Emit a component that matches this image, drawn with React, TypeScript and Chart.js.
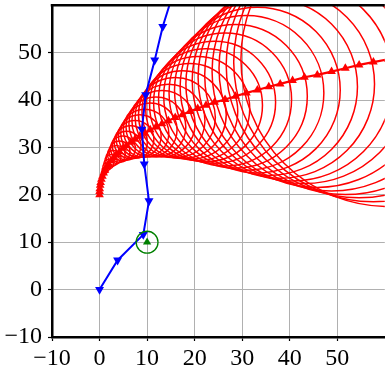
import React, { useEffect, useRef } from 'react';
import { Chart, registerables } from 'chart.js';

Chart.register(...registerables);

// Red trajectory (triangles up) with uncertainty circle radii (data units)
const redX = [0, 0.01, 0.05, 0.13, 0.23, 0.39, 0.6, 0.86, 1.15, 1.52, 1.93, 2.41, 2.94, 3.54, 4.19, 4.92, 5.7, 6.56, 7.47, 8.47, 9.52, 10.66, 11.86, 13.14, 14.49, 15.92, 17.42, 19.0, 20.65, 22.4, 24.2, 26.4, 28.6, 30.9, 33.2, 35.6, 38.0, 40.6, 43.1, 45.8, 48.8, 51.7, 54.6, 57.6, 60.7, 63.9, 67.2];
const redY = [20.0, 20.7, 21.3, 22.0, 22.6, 23.3, 23.9, 24.6, 25.2, 25.9, 26.5, 27.2, 27.8, 28.5, 29.1, 29.8, 30.4, 31.1, 31.7, 32.4, 33.0, 33.7, 34.3, 35.0, 35.6, 36.3, 36.9, 37.6, 38.2, 38.9, 39.5, 40.1, 40.8, 41.5, 42.1, 42.8, 43.4, 44.1, 44.8, 45.3, 46.0, 46.7, 47.4, 48.0, 48.6, 49.3, 49.9];
const redR = [0, 0.01, 0.03, 0.07, 0.12, 0.21, 0.32, 0.46, 0.61, 0.81, 1.02, 1.28, 1.56, 1.88, 2.22, 2.61, 3.02, 3.48, 3.96, 4.49, 5.05, 5.65, 6.29, 6.96, 7.68, 8.44, 9.23, 10.07, 10.94, 11.87, 12.83, 13.99, 15.1, 16.28, 17.43, 18.65, 19.84, 21.11, 22.37, 23.68, 25.13, 26.57, 27.96, 29.38, 30.96, 32.59, 34.27];

// Blue trajectory (triangles down)
const blueX = [0, 3.8, 9.2, 10.4, 9.4, 8.9, 9.7, 11.6, 13.3, 15.6];
const blueY = [0, 6.2, 11.6, 18.7, 26.5, 33.8, 41.1, 48.4, 55.5, 62.9];

// Green target
const greenX = [10];
const greenY = [10];
const greenR = [2.3];

// Axes
const X_MIN = -10;
const X_MAX = 60;
const Y_MIN = -10;
const Y_MAX = 60;
const TICK_STEP = 10;

const FONT = { family: 'Liberation Serif', size: 24, lineHeight: 1.2 };

const fmt = (v: number | string) => {
  const n = Number(v);
  return n < 0 ? '\u2212' + Math.abs(n) : String(n);
};

const toPts = (xs: number[], ys: number[]) => xs.map((x, i) => ({ x, y: ys[i] }));

const radiusPx = (chart: any, r: number) => {
  const s = chart.scales.x;
  if (!s) return 0;
  return Math.abs(s.getPixelForValue(r) - s.getPixelForValue(0));
};

const topFrame = {
  id: 'topFrame',
  afterDatasetsDraw(chart: any) {
    const { ctx, chartArea } = chart;
    ctx.save();
    ctx.strokeStyle = '#000';
    ctx.lineWidth = 2.5;
    ctx.beginPath();
    ctx.moveTo(chartArea.left - 1.25, chartArea.top);
    ctx.lineTo(chartArea.right, chartArea.top);
    ctx.stroke();
    ctx.restore();
  },
};

export default function App() {
  const ref = useRef<HTMLCanvasElement | null>(null);

  useEffect(() => {
    if (!ref.current) return;
    const axisCommon = (isX: boolean, max: number) => ({
      type: 'linear' as const,
      min: isX ? X_MIN : Y_MIN,
      max,
      afterBuildTicks: (s: any) => {
        s.ticks = s.ticks.filter((t: any) => t.value < max);
      },
      afterFit: (s: any) => {
        if (isX) s.height = 30;
        else s.width = 52;
        s.paddingLeft = 0;
        s.paddingRight = 0;
        s.paddingTop = 0;
        s.paddingBottom = 0;
      },
      ticks: {
        stepSize: TICK_STEP,
        font: FONT,
        color: '#000',
        padding: isX ? 3 : 6,
        maxRotation: 0,
        autoSkip: false,
        includeBounds: false,
        callback: (v: any) => fmt(v),
      },
      grid: {
        color: '#b0b0b0',
        lineWidth: 1,
        drawTicks: true,
        tickLength: 4,
        tickColor: '#000',
        tickWidth: 1.2,
      },
      border: { display: true, color: '#000', width: 2.5 },
    });

    const chart = new Chart(ref.current, {
      type: 'scatter',
      data: {
        datasets: [
          {
            data: toPts(greenX, greenY),
            showLine: false,
            pointStyle: 'triangle',
            pointRadius: 4.8,
            pointBackgroundColor: '#008000',
            pointBorderColor: '#008000',
            pointBorderWidth: 0,
            clip: 0,
            order: 0,
          },
          {
            data: toPts(greenX, greenY),
            showLine: false,
            pointStyle: 'circle',
            pointRadius: (c: any) => radiusPx(c.chart, greenR[c.dataIndex]),
            pointBackgroundColor: 'rgba(0,0,0,0)',
            pointBorderColor: '#008000',
            pointBorderWidth: 1.3,
            clip: 0,
            order: 1,
          },
          {
            data: toPts(blueX, blueY),
            showLine: true,
            borderColor: '#0000ff',
            borderWidth: 2,
            pointStyle: 'triangle',
            pointRotation: 180,
            pointRadius: 5.2,
            pointBackgroundColor: '#0000ff',
            pointBorderColor: '#0000ff',
            pointBorderWidth: 0,
            clip: 0,
            order: 2,
          },
          {
            data: toPts(redX, redY),
            showLine: true,
            borderColor: '#ff0000',
            borderWidth: 2.2,
            pointStyle: 'triangle',
            pointRadius: 5,
            pointBackgroundColor: '#ff0000',
            pointBorderColor: '#ff0000',
            pointBorderWidth: 0,
            clip: 0,
            order: 3,
          },
          {
            data: toPts(redX, redY),
            showLine: false,
            pointStyle: 'circle',
            pointRadius: (c: any) => radiusPx(c.chart, redR[c.dataIndex]),
            pointBackgroundColor: 'rgba(0,0,0,0)',
            pointBorderColor: '#ff0000',
            pointBorderWidth: 1.5,
            clip: 0,
            order: 4,
          },
        ],
      },
      options: {
        responsive: false,
        animation: false,
        events: [],
        layout: { padding: { top: 1, left: 0, right: 0, bottom: 0 } },
        plugins: { legend: { display: false }, tooltip: { enabled: false } },
        scales: {
          x: axisCommon(true, X_MAX) as any,
          y: axisCommon(false, Y_MAX) as any,
        },
      },
      plugins: [topFrame],
    } as any);
    return () => chart.destroy();
  }, []);

  return (
    <div style={{ position: 'absolute', left: 0, top: 0, width: 390, height: 367 }}>
      <canvas ref={ref} width={390} height={367} style={{ display: 'block' }} />
    </div>
  );
}
